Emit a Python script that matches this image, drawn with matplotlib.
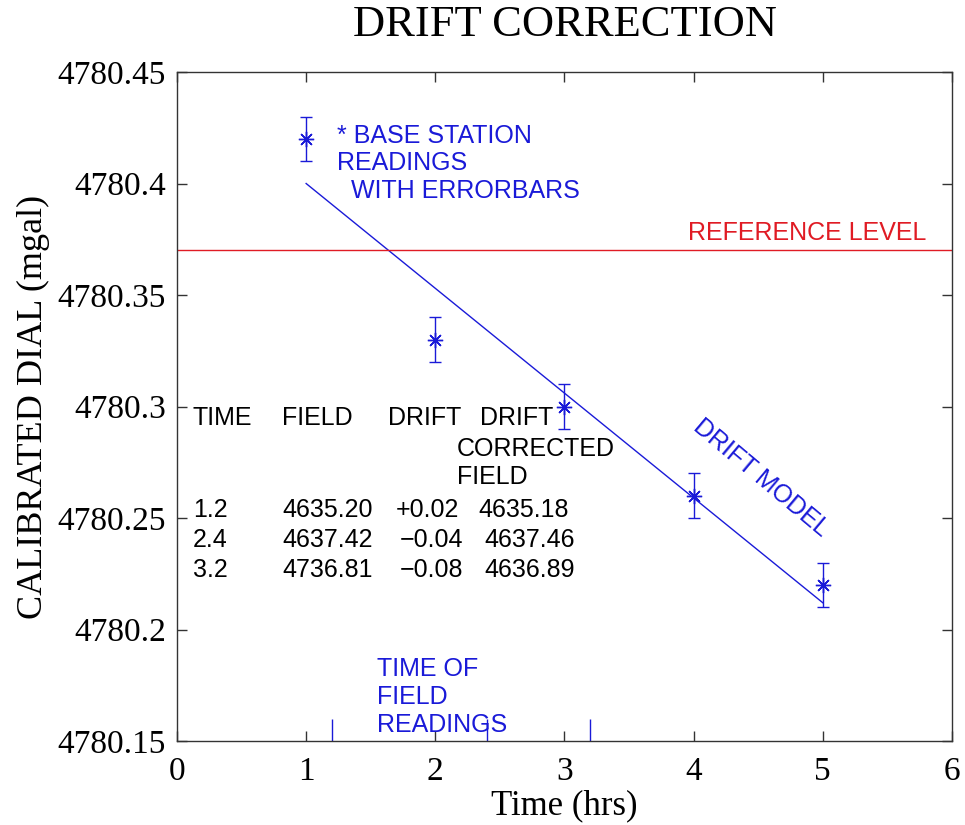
import numpy as np
import matplotlib
matplotlib.use('Agg')
import matplotlib.pyplot as plt

# base station readings
base_time = [1, 2, 3, 4, 5]
base_dial = [4780.42, 4780.33, 4780.30, 4780.26, 4780.22]
base_err = [0.01, 0.01, 0.01, 0.01, 0.01]

reference_level = 4780.37
field_times = [1.2, 2.4, 3.2]
field_tick_height = 0.01

# table of field readings
table_header = ['TIME', 'FIELD', 'DRIFT', 'DRIFT']
table_time = ['1.2', '2.4', '3.2']
table_field = ['4635.20', '4637.42', '4736.81']
table_drift = ['+0.02', '\u22120.04', '\u22120.08']
table_corrected = ['4635.18', '4637.46', '4636.89']

x_ticks = [0, 1, 2, 3, 4, 5, 6]
y_ticks = [4780.15, 4780.2, 4780.25, 4780.3, 4780.35, 4780.4, 4780.45]
y_ticklabels = ['4780.15', '4780.2', '4780.25', '4780.3', '4780.35', '4780.4', '4780.45']

blue = '#1a1ad8'
red = '#e01b24'
serif = 'Liberation Serif'
sans = 'Liberation Sans'

fig = plt.figure(figsize=(9.65, 8.25), dpi=100)
ax = fig.add_axes([0.1834, 0.1018, 0.8031, 0.8109])

# drift model: linear fit to base readings
coef = np.polyfit(base_time, base_dial, 1)
fit_x = np.array([base_time[0], base_time[-1]])
ax.plot(fit_x, np.polyval(coef, fit_x), color=blue, lw=1.0)

ax.errorbar(base_time, base_dial, yerr=base_err, fmt='none', ecolor=blue,
            elinewidth=1.0, capsize=4, capthick=1.0)
ax.plot(base_time, base_dial, ls='none', marker=(8, 2, 0), ms=11,
        mec=blue, mew=1.0, color=blue)

ax.axhline(reference_level, color=red, lw=1.0)

# field reading times as short ticks at the bottom
ax.vlines(field_times, y_ticks[0], y_ticks[0] + field_tick_height,
          color=blue, lw=1.0)

ax.set_xlim(0, 6)
ax.set_ylim(4780.15, 4780.45)
ax.set_xticks(x_ticks)
ax.set_yticks(y_ticks)
ax.set_yticklabels(y_ticklabels)
for lab in ax.get_xticklabels() + ax.get_yticklabels():
    lab.set_fontfamily(serif)
    lab.set_fontsize(24)
ax.tick_params(direction='in', length=7, width=1.0, color='#333333',
               top=True, right=True)
ax.tick_params(axis='x', pad=11)
ax.tick_params(axis='y', pad=8)
for sp in ax.spines.values():
    sp.set_color('#333333')
    sp.set_linewidth(1.0)

ax.set_title('DRIFT CORRECTION', fontfamily=serif, fontsize=32, pad=26)
ax.set_xlabel('Time (hrs)', fontfamily=serif, fontsize=25, labelpad=2)
ax.set_ylabel('CALIBRATED DIAL (mgal)', fontfamily=serif, fontsize=26,
              labelpad=5)

fs = 18
ax.text(1.239, 4780.409, '* BASE STATION\nREADINGS\n  WITH ERRORBARS',
        color=blue, fontsize=fs, fontfamily=sans, ha='left', va='center')
ax.text(3.956, 4780.378, 'REFERENCE LEVEL', color=red, fontsize=fs,
        fontfamily=sans, ha='left', va='center')
ax.text(4.52, 4780.268, 'DRIFT MODEL', color=blue, fontsize=fs,
        fontfamily=sans, ha='center', va='center', rotation=-40,
        rotation_mode='anchor')
ax.text(1.548, 4780.1697, 'TIME OF\nFIELD\nREADINGS', color=blue,
        fontsize=fs, fontfamily=sans, ha='left', va='center')

# table
head_x = [0.124, 0.813, 1.633, 2.346]
head_y = 4780.2949
for hx, h in zip(head_x, table_header):
    ax.text(hx, head_y, h, fontsize=fs, fontfamily=sans, ha='left', va='center')
ax.text(2.168, 4780.281, 'CORRECTED', fontsize=fs, fontfamily=sans,
        ha='left', va='center')
ax.text(2.168, 4780.2684, 'FIELD', fontsize=fs, fontfamily=sans,
        ha='left', va='center')
row_y = [4780.2536, 4780.2401, 4780.2267]
drift_x = [1.69, 1.726, 1.726]
corr_x = [2.33, 2.38, 2.38]
for i, ry in enumerate(row_y):
    ax.text(0.124, ry, table_time[i], fontsize=fs, fontfamily=sans, ha='left', va='center')
    ax.text(0.813, ry, table_field[i], fontsize=fs, fontfamily=sans, ha='left', va='center')
    ax.text(drift_x[i], ry, table_drift[i], fontsize=fs, fontfamily=sans, ha='left', va='center')
    ax.text(corr_x[i], ry, table_corrected[i], fontsize=fs, fontfamily=sans, ha='left', va='center')

fig.savefig('out.png', dpi=100)
